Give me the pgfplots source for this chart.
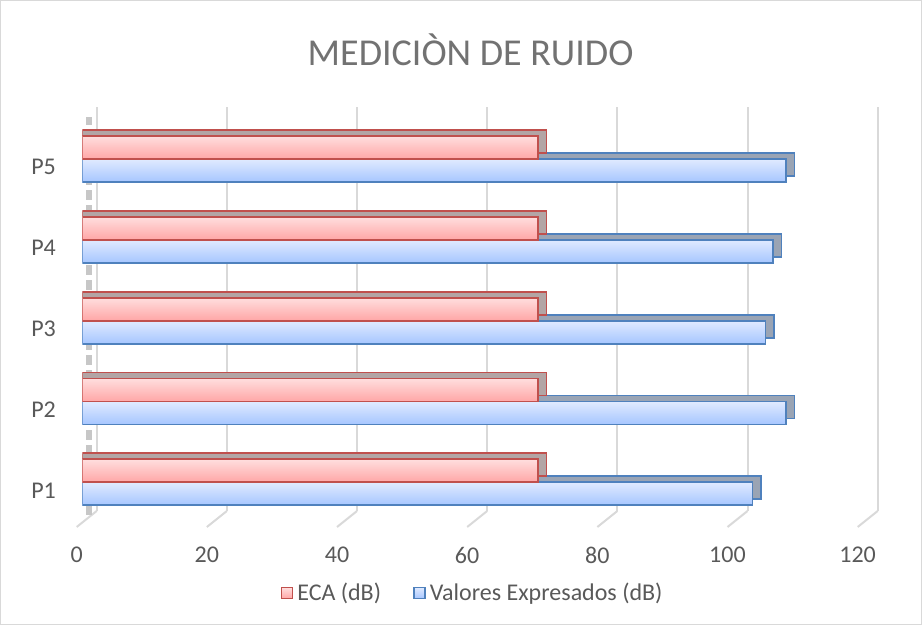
\documentclass[border=0pt]{standalone}
\usepackage{pgfplots}
\pgfplotsset{compat=1.18}
\usepackage{fontspec}
\setmainfont{Carlito}
\definecolor{txt}{HTML}{595959}
\definecolor{gridc}{HTML}{D9D9D9}
\definecolor{redE}{HTML}{C0504D}
\definecolor{blueE}{HTML}{4F81BD}
\definecolor{redT}{HTML}{FFDEDE}
\definecolor{redB}{HTML}{FFA6A6}
\definecolor{blueT}{HTML}{E0EAFF}
\definecolor{blueB}{HTML}{A6C6FF}
\definecolor{redD}{HTML}{B3A5A5}
\definecolor{blueD}{HTML}{9AA4B4}
\begin{document}
\begin{tikzpicture}
\path[use as bounding box] (0,0) rectangle (461pt,312.5pt);
\draw[gridc, line width=0.6pt] (0.4pt,0.4pt) rectangle (460.6pt,312.1pt);
\node[text=txt!85, font=\fontsize{19}{23}\selectfont] at (235.3pt,287.5pt) {MEDICIÒN DE RUIDO};
% back plane grid
\begin{axis}[
  at={(48.35pt,57pt)}, anchor=south west,
  scale only axis, width=390.5pt, height=202pt,
  xmin=0, xmax=120, ymin=0, ymax=1, clip=false,
  xtick={0,20,...,120}, xticklabels={}, ytick=\empty,
  xmajorgrids, grid style={gridc, line width=1pt},
  axis line style={draw=none}, major tick length=0pt,
]
\addplot[draw=none, forget plot] coordinates {(0,0)};
\pgfplotsinvokeforeach{0,20,40,60,80,100,120}{
  \draw[gridc, line width=1pt] (axis cs:#1,0) -- ++(-10pt,-8pt);
}
\draw[black!22, line width=3pt, dash pattern=on 5pt off 2.5pt] (axis cs:0,0) ++(-4pt,-2pt) -- ++(0pt,199pt);
\end{axis}
% bars
\begin{axis}[
  at={(41.15pt,51.15pt)}, anchor=south west,
  scale only axis, width=390.45pt, height=202pt,
  xmin=0, xmax=120, ymin=0.5, ymax=5.5,
  xbar, bar width=11.5pt,
  xtick={0,20,...,120},
  ytick={1,2,3,4,5}, yticklabels={P1,P2,P3,P4,P5},
  axis line style={draw=none}, major tick length=0pt,
  tick label style={text=txt, font=\fontsize{12}{14}\selectfont},
  /pgf/number format/assume math mode=true,
  xticklabel style={anchor=center, xshift=-2.8pt, yshift=-16.15pt},
  yticklabel style={anchor=east, inner sep=0pt, xshift=-13pt, yshift=-4pt},
  legend style={at={(0.501,-0.174)}, anchor=center, draw=none, fill=none,
    legend columns=2, font=\fontsize{12}{14}\selectfont, text=txt,
    /tikz/every even column/.append style={column sep=14pt}},
  legend image code/.code={\draw[#1, line width=0.8pt] (0pt,-2.8pt) rectangle (5.6pt,2.8pt);},
  bluefront/.style={xbar, bar shift=-5.75pt, top color=blueT, bottom color=blueB, draw=blueE, line width=0.9pt, forget plot},
  redfront/.style={xbar, bar shift=5.75pt, top color=redT, bottom color=redB, draw=redE, line width=0.9pt, forget plot},
]
% blue depth
\addplot[xbar, bar shift=-2.75pt, fill=blueD, draw=blueE, line width=0.9pt, forget plot]
  coordinates {(104.34,1) (109.44,2) (106.34,3) (107.44,4) (109.44,5)};
% blue front (Valores Expresados)
\addplot[bluefront] coordinates {(103,1)};
\addplot[bluefront] coordinates {(108.1,2)};
\addplot[bluefront] coordinates {(105,3)};
\addplot[bluefront] coordinates {(106.1,4)};
\addplot[bluefront] coordinates {(108.1,5)};
% red depth
\addplot[xbar, bar shift=8.75pt, fill=redD, draw=redE, line width=0.9pt, forget plot]
  coordinates {(71.34,1) (71.34,2) (71.34,3) (71.34,4) (71.34,5)};
% red front (ECA)
\addplot[redfront] coordinates {(70,1)};
\addplot[redfront] coordinates {(70,2)};
\addplot[redfront] coordinates {(70,3)};
\addplot[redfront] coordinates {(70,4)};
\addplot[redfront] coordinates {(70,5)};
\addlegendimage{top color=redT, bottom color=redB, draw=redE}
\addlegendentry{ECA (dB)}
\addlegendimage{top color=blueT, bottom color=blueB, draw=blueE}
\addlegendentry{Valores Expresados (dB)}
\end{axis}
\end{tikzpicture}
\end{document}
